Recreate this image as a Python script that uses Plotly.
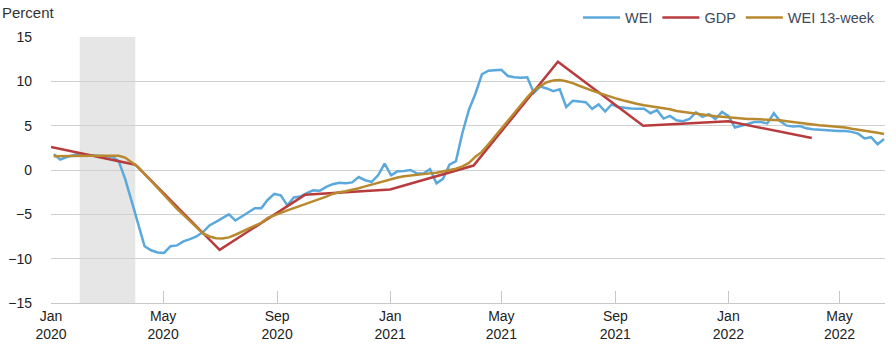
import pandas as pd
import plotly.graph_objects as go

# Weekly dates (Saturdays) Jan 4 2020 .. Jun 18 2022
wei_dates = pd.date_range("2020-01-04", periods=129, freq="7D")

wei = [
    1.77, 1.17, 1.47, 1.62, 1.85, 1.70, 1.65, 1.60, 1.60, 1.50,
    1.00, -1.00, -3.50, -6.00, -8.60, -9.05, -9.30, -9.35, -8.60, -8.50,
    -8.05, -7.80, -7.50, -7.00, -6.25, -5.85, -5.40, -5.00, -5.70, -5.20,
    -4.80, -4.30, -4.30, -3.35, -2.70, -2.85, -4.00, -3.10, -3.00, -2.60,
    -2.30, -2.35, -1.90, -1.60, -1.45, -1.50, -1.40, -0.80, -1.15, -1.35,
    -0.60, 0.72, -0.60, -0.15, -0.10, 0.00, -0.40, -0.40, 0.10, -1.50,
    -1.00, 0.60, 1.00, 4.20, 6.80, 8.60, 10.80, 11.20, 11.25, 11.30,
    10.60, 10.45, 10.40, 10.45, 8.70, 9.40, 9.20, 8.90, 9.10, 7.10,
    7.80, 7.70, 7.65, 6.90, 7.40, 6.60, 7.40, 7.10, 7.00, 6.95,
    6.90, 6.90, 6.40, 6.75, 5.80, 6.10, 5.60, 5.50, 5.75, 6.50,
    6.00, 6.30, 5.75, 6.55, 6.10, 4.80, 5.00, 5.20, 5.40, 5.40,
    5.26, 6.40, 5.50, 5.00, 4.90, 4.95, 4.70, 4.60, 4.55, 4.44,
    4.40, 4.40, 4.40, 4.30, 4.10, 3.55, 3.70, 2.90, 3.50,
]

wei13 = [
    1.55, 1.57, 1.60, 1.60, 1.60, 1.60, 1.60, 1.60, 1.60, 1.60,
    1.60, 1.40, 0.90, 0.35, -0.45, -1.25, -2.05, -2.85, -3.65, -4.37,
    -5.07, -5.75, -6.45, -7.15, -7.50, -7.70, -7.72, -7.60, -7.30, -6.95,
    -6.60, -6.30, -5.95, -5.40, -5.10, -4.80, -4.55, -4.30, -4.05, -3.80,
    -3.50, -3.25, -3.00, -2.70, -2.50, -2.40, -2.25, -2.05, -1.85, -1.65,
    -1.45, -1.20, -1.00, -0.85, -0.70, -0.60, -0.50, -0.45, -0.38, -0.30,
    -0.15, 0.00, 0.15, 0.40, 0.80, 1.50, 2.04, 2.90, 3.80, 4.65,
    5.60, 6.50, 7.40, 8.20, 9.00, 9.50, 9.90, 10.10, 10.15, 10.00,
    9.80, 9.50, 9.20, 8.95, 8.70, 8.45, 8.20, 8.00, 7.80, 7.60,
    7.45, 7.30, 7.20, 7.10, 7.00, 6.85, 6.65, 6.55, 6.40, 6.30,
    6.20, 6.10, 6.05, 6.00, 5.93, 5.85, 5.78, 5.75, 5.75, 5.73,
    5.70, 5.65, 5.60, 5.50, 5.40, 5.30, 5.18, 5.10, 5.05, 5.00,
    4.95, 4.85, 4.80, 4.65, 4.55, 4.40, 4.30, 4.20, 4.06,
]

gdp_dates = ["2020-01-01", "2020-04-01", "2020-07-01", "2020-10-01", "2021-01-01",
             "2021-04-01", "2021-07-01", "2021-10-01", "2022-01-01", "2022-04-01"]
gdp = [2.6, 0.6, -9.0, -2.8, -2.2, 0.5, 12.2, 5.0, 5.5, 3.6]

tick_dates = ["2020-01-01", "2020-05-01", "2020-09-01", "2021-01-01",
              "2021-05-01", "2021-09-01", "2022-01-01", "2022-05-01"]
tick_text = ["Jan<br>2020", "May<br>2020", "Sep<br>2020", "Jan<br>2021",
             "May<br>2021", "Sep<br>2021", "Jan<br>2022", "May<br>2022"]
y_ticks = [-15, -10, -5, 0, 5, 10, 15]

recession = ("2020-02-01", "2020-04-01")

BLUE = "#5ba8dc"
RED = "#b83b3d"
GOLD = "#b8892e"
FONT = "Liberation Sans, Arial, sans-serif"

fig = go.Figure()
fig.add_trace(go.Scatter(x=wei_dates, y=wei, mode="lines", name="WEI",
                         line=dict(color=BLUE, width=2.5)))
fig.add_trace(go.Scatter(x=pd.to_datetime(gdp_dates), y=gdp, mode="lines", name="GDP",
                         line=dict(color=RED, width=2.5)))
fig.add_trace(go.Scatter(x=wei_dates, y=wei13, mode="lines", name="WEI 13-week",
                         line=dict(color=GOLD, width=2.5)))

fig.add_shape(type="rect", xref="x", yref="paper", x0=recession[0], x1=recession[1],
              y0=0, y1=1, fillcolor="#e6e6e6", line=dict(width=0), layer="below")

fig.add_annotation(text="Percent", xref="paper", yref="paper", x=-0.061, y=1.092,
                   xanchor="left", yanchor="middle", showarrow=False,
                   font=dict(family=FONT, size=15, color="#333333"))

fig.update_layout(
    width=896, height=352,
    margin=dict(l=51, r=11, t=37, b=49, autoexpand=False),
    paper_bgcolor="white", plot_bgcolor="white",
    font=dict(family=FONT, size=14, color="#333333"),
    showlegend=True,
    legend=dict(orientation="h", xanchor="right", x=0.994, yanchor="middle",
                yref="container", y=0.95, itemwidth=37,
                font=dict(family=FONT, size=14.5, color="#3d4a5a"),
                bgcolor="rgba(0,0,0,0)", traceorder="normal"),
    xaxis=dict(
        type="date", range=["2020-01-01", "2022-06-19"],
        tickmode="array", tickvals=tick_dates, ticktext=tick_text,
        ticks="inside", ticklen=12, tickcolor="#c8c8c8", tickwidth=1,
        showgrid=False, showline=True, linecolor="#c8c8c8", linewidth=1,
        zeroline=False, tickfont=dict(family=FONT, size=14, color="#222222"),
    ),
    yaxis=dict(
        range=[-15, 15], tickmode="array", tickvals=y_ticks,
        showgrid=True, gridcolor="#d0d0d0", gridwidth=1,
        zeroline=False, showline=False, ticks="",
        ticklabelstandoff=18,
        tickfont=dict(family=FONT, size=14, color="#222222"),
    ),
)

fig.write_html("out.html")
